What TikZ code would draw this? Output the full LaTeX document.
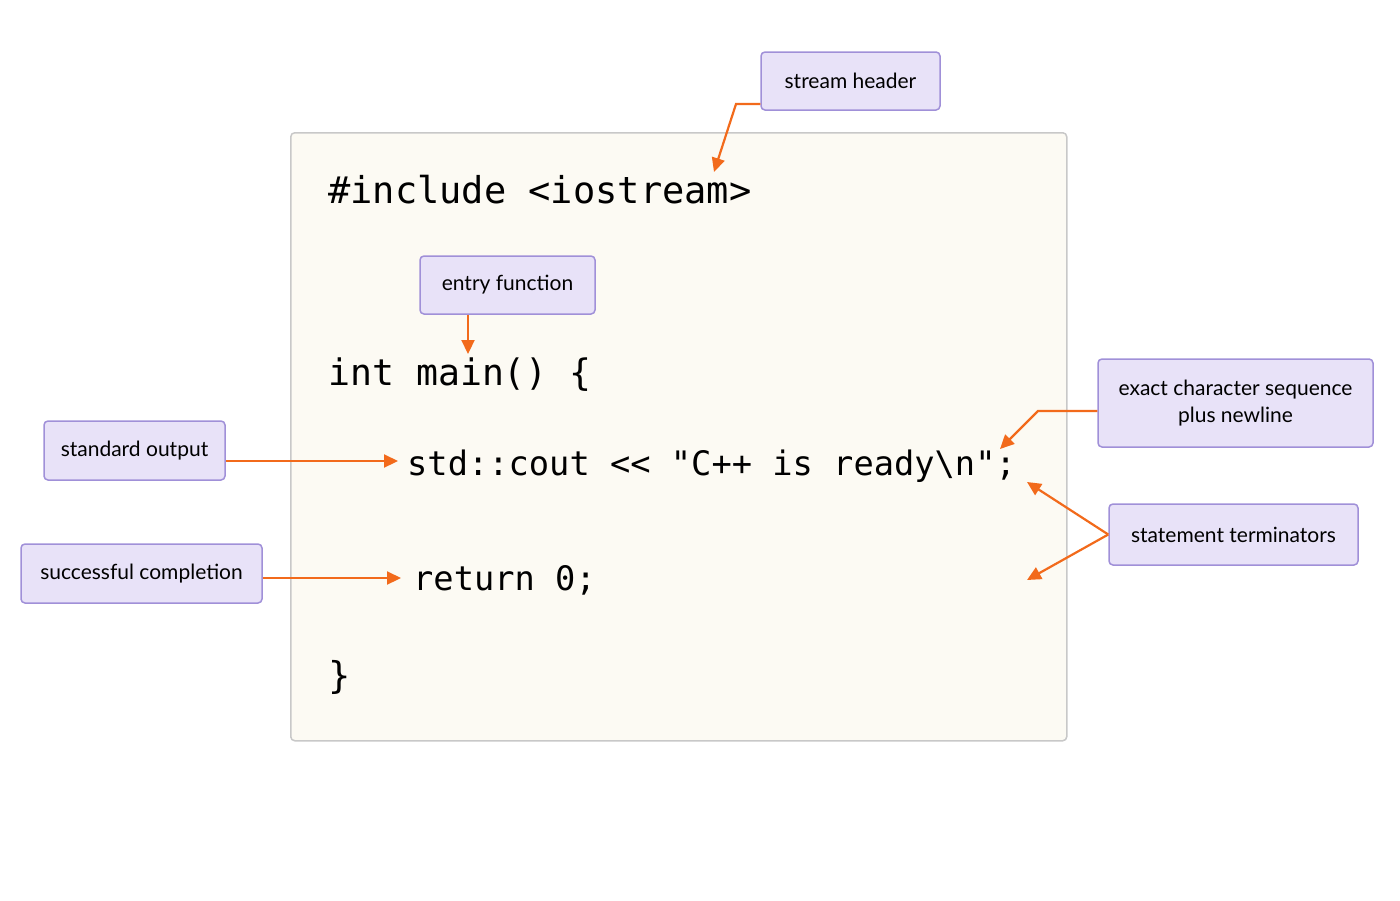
\documentclass[tikz,border=0pt]{standalone}
\usepackage{fontspec}
\setmainfont{Lato}
\setmonofont{DejaVu Sans Mono}
\usetikzlibrary{arrows.meta}
\definecolor{codebg}{HTML}{FCFAF3}
\definecolor{codeborder}{HTML}{C8C8C8}
\definecolor{lblfill}{HTML}{E8E2F8}
\definecolor{lblborder}{HTML}{A090D8}
\definecolor{arr}{HTML}{F26A1B}
\begin{document}
\begin{tikzpicture}[x=1pt,y=-1pt,
  lbl/.style={draw=lblborder,fill=lblfill,line width=1.5pt,rounded corners=4pt,align=center,font=\fontsize{21}{27}\selectfont,text=black,inner sep=0pt},
  code/.style={font=\ttfamily\fontsize{37}{44}\selectfont,anchor=west,inner sep=0pt},
  codes/.style={font=\ttfamily\fontsize{33.7}{40}\selectfont,anchor=west,inner sep=0pt},
  ar/.style={draw=arr,line width=2.2pt,-{Triangle[length=14pt,width=13pt]}}]
\useasboundingbox (0,0) rectangle (1400,900);
\node[draw=codeborder,fill=codebg,line width=1.5pt,rounded corners=4pt,minimum width=776pt,minimum height=608pt,anchor=north west,inner sep=0pt] (box) at (290,132) {};
\node[code] (inc) at (328,190) {\#include <iostream>};
\node[code,font=\ttfamily\fontsize{36.5}{44}\selectfont] (main) at (328,375) {int main() \{};
\node[codes] (cout) at (407,466) {std::cout << "C++ is ready\textbackslash n";};
\node[codes] (ret) at (413,580) {return 0;};
\node[code] (close) at (328,677) {\}};
\node[lbl,minimum width=179pt,minimum height=58pt] (sh) at (850.5,81) {stream header};
\node[lbl,minimum width=175pt,minimum height=58pt] (ef) at (507.5,285) {entry function};
\node[lbl,minimum width=181pt,minimum height=59pt] (so) at (134.5,450.5) {standard output};
\node[lbl,minimum width=241pt,minimum height=59pt] (sc) at (141.5,573.5) {successful completion};
\node[lbl,minimum width=275pt,minimum height=88pt] (ex) at (1235.5,403) {exact character sequence\\plus newline};
\node[lbl,minimum width=249pt,minimum height=61pt] (st) at (1233.5,534.5) {statement terminators};
\coordinate (t1) at (714,172);
\coordinate (t2) at (468,354);
\coordinate (t3) at (398,461);
\coordinate (t4) at (401,578);
\coordinate (t5) at (1000,449);
\coordinate (t6) at (1027,482);
\coordinate (t7) at (1027,580);
\draw[ar] (sh.west |- 0,104) -- (736,104) -- (t1);
\draw[ar] (ef.south -| 468,0) -- (t2);
\draw[ar] (so.east |- 0,461) -- (t3);
\draw[ar] (sc.east |- 0,578) -- (t4);
\draw[ar] (ex.west |- 0,411) -- (1038,411) -- (t5);
\draw[ar] (st.west) -- (t6);
\draw[ar] (st.west) -- (t7);
\end{tikzpicture}
\end{document}
